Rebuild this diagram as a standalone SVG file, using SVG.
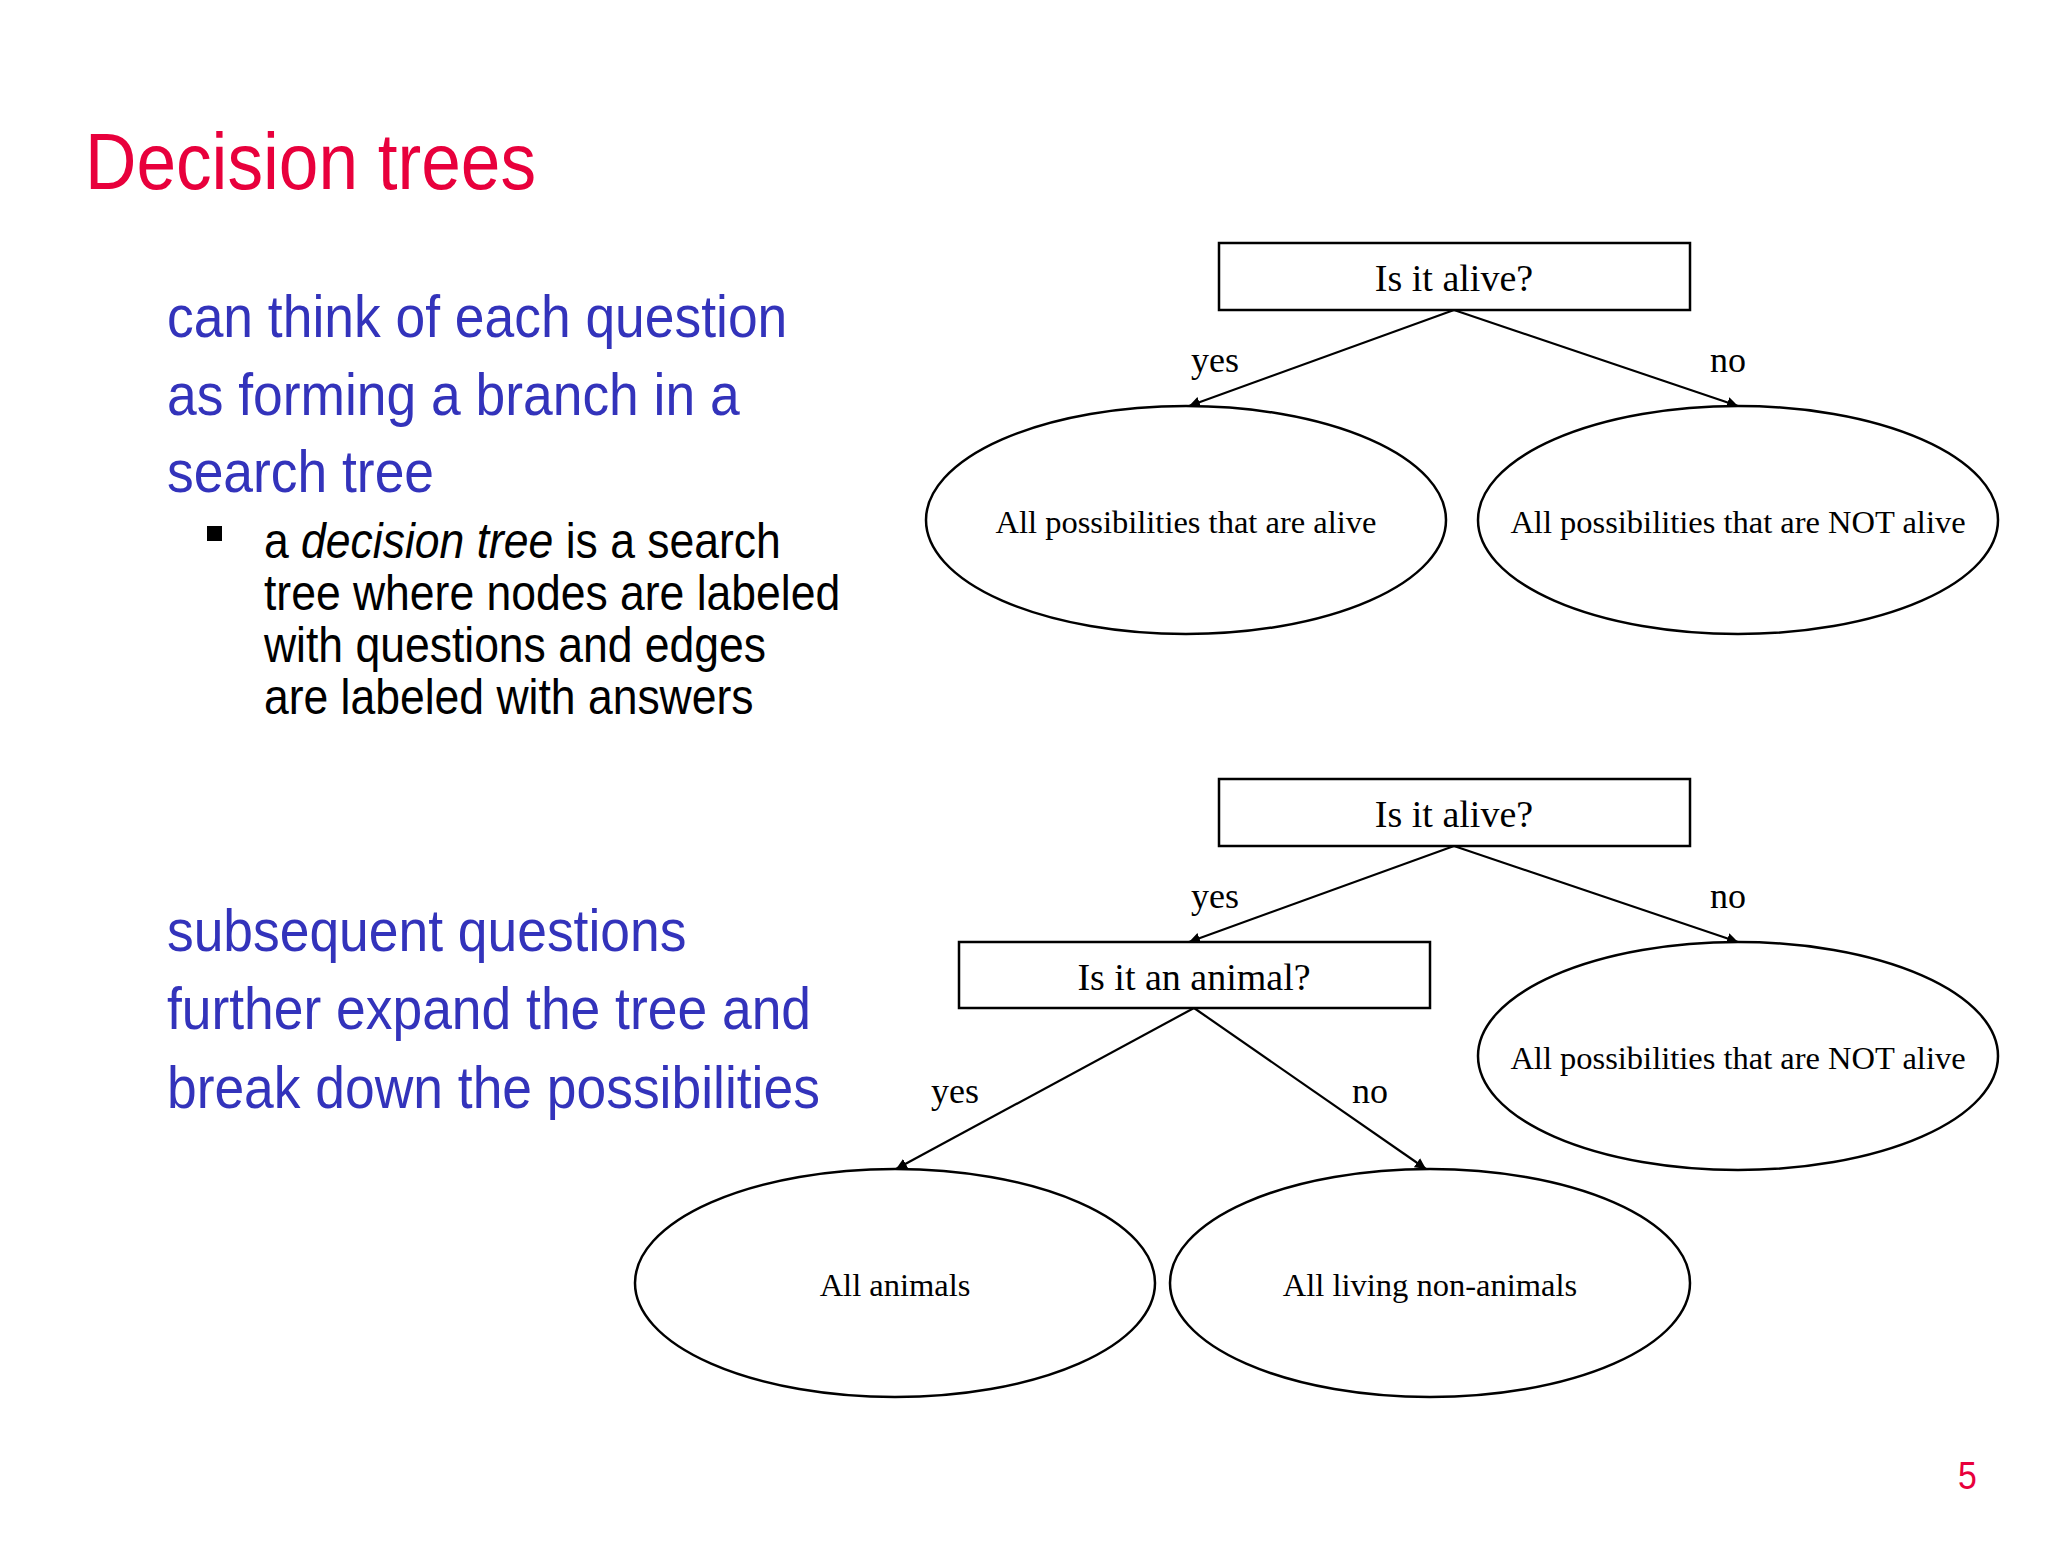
<svg xmlns="http://www.w3.org/2000/svg" width="2048" height="1560" viewBox="0 0 2048 1560">
<style>
.t{font-family:"Liberation Sans",Arial,sans-serif}
.blue{fill:#3333bb;font-size:60px}
.blk{fill:#000;font-size:50px}
.s{font-family:"Liberation Serif","Times New Roman",serif;fill:#000;text-anchor:middle}
.q{font-size:38px}.e{font-size:32.5px}.l{font-size:36px}
.box{fill:#fff;stroke:#000;stroke-width:2.5}
.c{stroke:#000;stroke-width:2.2;fill:none;marker-end:url(#a)}
</style>
<defs><marker id="a" viewBox="0 0 10 10" refX="10" refY="5" markerWidth="5" markerHeight="5" orient="auto"><path d="M0,0L10,5L0,10z" fill="#000"/></marker></defs>
<rect width="2048" height="1560" fill="#fff"/>
<g transform="scale(0.89,1)">
<text class="t" x="95.5" y="189" font-size="80" fill="#e8003c">Decision trees</text>
<g class="t blue">
<text x="187.6" y="337">can think of each question</text>
<text x="187.6" y="415">as forming a branch in a</text>
<text x="187.6" y="492">search tree</text>
<text x="187.6" y="951">subsequent questions</text>
<text x="187.6" y="1029">further expand the tree and</text>
<text x="187.6" y="1108">break down the possibilities</text>
</g>
<g class="t blk">
<text x="296.6" y="558">a <tspan font-style="italic">decision tree</tspan> is a search</text>
<text x="296.6" y="610">tree where nodes are labeled</text>
<text x="296.6" y="662">with questions and edges</text>
<text x="296.6" y="714">are labeled with answers</text>
</g>
<text class="t" x="2200" y="1489" font-size="38" fill="#e8003c">5</text>
</g>
<rect x="207" y="526" width="15" height="15" fill="#000"/>
<g id="connectors">
<path class="c" d="M1454,310L1189,406"/>
<path class="c" d="M1454,310L1738,406"/>
<path class="c" d="M1454,846L1189,942"/>
<path class="c" d="M1454,846L1738,942"/>
<path class="c" d="M1194,1008L896,1169"/>
<path class="c" d="M1194,1008L1426,1169"/>
<text class="s l" x="1215" y="372">yes</text>
<text class="s l" x="1728" y="372">no</text>
<text class="s l" x="1215" y="908">yes</text>
<text class="s l" x="1728" y="908">no</text>
<text class="s l" x="955" y="1103">yes</text>
<text class="s l" x="1370" y="1103">no</text>
</g>
<g id="q1"><rect class="box" x="1219" y="243" width="471" height="67"/><text class="s q" x="1454" y="291">Is it alive?</text></g>
<g id="e1"><ellipse class="box" cx="1186" cy="520" rx="260" ry="114"/><text class="s e" x="1186" y="533">All possibilities that are alive</text></g>
<g id="e2"><ellipse class="box" cx="1738" cy="520" rx="260" ry="114"/><text class="s e" x="1738" y="533">All possibilities that are NOT alive</text></g>
<g id="q2"><rect class="box" x="1219" y="779" width="471" height="67"/><text class="s q" x="1454" y="827">Is it alive?</text></g>
<g id="q3"><rect class="box" x="959" y="942" width="471" height="66"/><text class="s q" x="1194" y="990">Is it an animal?</text></g>
<g id="e3"><ellipse class="box" cx="1738" cy="1056" rx="260" ry="114"/><text class="s e" x="1738" y="1069">All possibilities that are NOT alive</text></g>
<g id="e4"><ellipse class="box" cx="895" cy="1283" rx="260" ry="114"/><text class="s e" x="895" y="1296">All animals</text></g>
<g id="e5"><ellipse class="box" cx="1430" cy="1283" rx="260" ry="114"/><text class="s e" x="1430" y="1296">All living non-animals</text></g>
</svg>
